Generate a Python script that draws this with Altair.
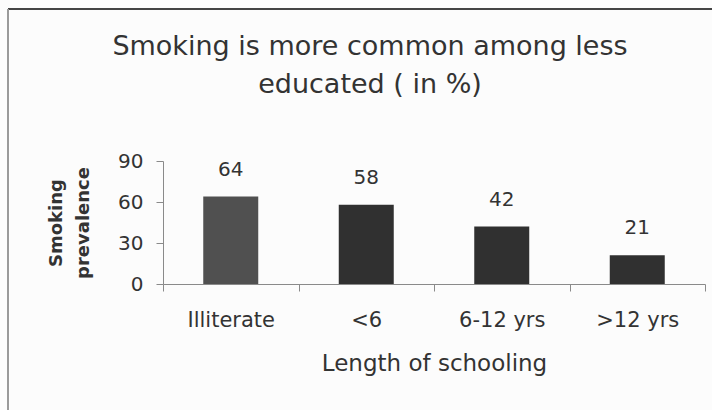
import altair as alt
import pandas as pd

categories = ["Illiterate", "<6", "6-12 yrs", ">12 yrs"]
prevalence = [64, 58, 42, 21]
y_ticks = [0, 30, 60, 90]
title_lines = ["Smoking is more common among less", "educated ( in %)"]
y_title = ["Smoking", "prevalence"]
x_title = "Length of schooling"
bar_colors = ["#505050", "#303030", "#303030", "#303030"]

df = pd.DataFrame({"schooling": categories, "prevalence": prevalence})
W, H = 542, 123
FONT = "DejaVu Sans"
TXT = "#333333"
AX = "#8a8a8a"

x_enc = alt.X(
    "schooling:N",
    sort=categories,
    title=x_title,
    scale=alt.Scale(paddingInner=0, paddingOuter=0),
    axis=alt.Axis(
        labelAngle=0, tickBand="extent", domainColor=AX, tickColor=AX, tickSize=7,
        labelFont=FONT, labelFontSize=21, labelColor=TXT, labelPadding=18,
        titleFont=FONT, titleFontSize=23, titleFontWeight="normal", titleColor=TXT,
        titleY=86, titleBaseline="alphabetic",
    ),
)
y_enc = alt.Y(
    "prevalence:Q",
    scale=alt.Scale(domain=[0, 90], nice=False),
    title=y_title,
    axis=alt.Axis(
        values=y_ticks, grid=False, domainColor=AX, tickColor=AX, tickSize=7,
        labelFont=FONT, labelFontSize=20, labelColor=TXT, labelPadding=13,
        titleFont=FONT, titleFontSize=18, titleFontWeight="bold", titleColor=TXT,
        titleAngle=270, titleX=-102, titleY=H / 2, titleAlign="center",
        titleBaseline="alphabetic", titleLineHeight=27,
    ),
)

base = alt.Chart(df)
bars = base.mark_bar(size=55).encode(
    x=x_enc,
    y=y_enc,
    color=alt.Color("schooling:N", scale=alt.Scale(domain=categories, range=bar_colors), legend=None),
)
labels = base.mark_text(dy=-21, baseline="alphabetic", font=FONT, fontSize=20, color=TXT).encode(
    x=alt.X("schooling:N", sort=categories),
    y="prevalence:Q",
    text="prevalence:Q",
)

frame_src = alt.Chart(pd.DataFrame({"f": [0]}))
top_border = frame_src.mark_rule(color="#444444", strokeWidth=2).encode(
    x=alt.value(-155), x2=alt.value(W + 12), y=alt.value(-152)
)
left_border = frame_src.mark_rule(color="#9a9a9a", strokeWidth=2).encode(
    x=alt.value(-155), y=alt.value(-152), y2=alt.value(H + 130)
)

chart = (
    alt.layer(bars, labels, top_border, left_border)
    .properties(
        width=W,
        height=H,
        autosize=alt.AutoSizeParams(type="none"),
        padding={"left": 163, "top": 161, "right": 7, "bottom": 126},
        background="#fcfcfc",
        title=alt.TitleParams(
            text=title_lines, font=FONT, fontSize=27, fontWeight="normal", color=TXT,
            anchor="middle", dx=-64, dy=153, offset=62, lineHeight=38,
        ),
    )
    .configure_view(stroke=None)
)

chart.save("out.html", embed_options={"renderer": "svg", "actions": False})
